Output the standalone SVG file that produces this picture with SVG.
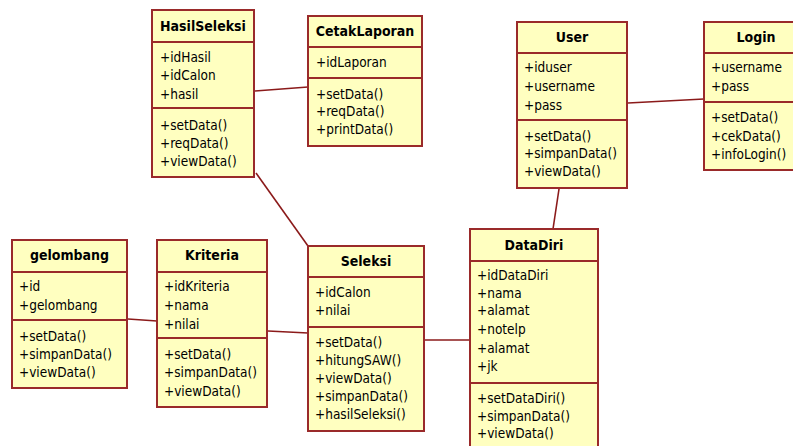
<svg xmlns="http://www.w3.org/2000/svg" width="793" height="446" viewBox="0 0 793 446">
<style>
.box{fill:#FFFFC0;stroke:#9A2A2A;stroke-width:2}
.sep{stroke:#9A2A2A;stroke-width:2}
.t{font-family:"DejaVu Sans Condensed","DejaVu Sans",sans-serif;font-size:13.5px;fill:#000}
.h{font-family:"DejaVu Sans Condensed","DejaVu Sans",sans-serif;font-size:14px;font-weight:bold;fill:#000;text-anchor:middle}
.c{stroke:#8B1A1A;stroke-width:1.6;fill:none}
</style>
<rect width="793" height="446" fill="#fff"/>
<g id="connectors">
<line class="c" x1="255" y1="91" x2="308" y2="87"/>
<line class="c" x1="256" y1="173" x2="308" y2="246"/>
<line class="c" x1="628" y1="103" x2="704" y2="99"/>
<line class="c" x1="559" y1="189" x2="553" y2="229"/>
<line class="c" x1="128" y1="319" x2="157" y2="321"/>
<line class="c" x1="268" y1="331" x2="308" y2="333"/>
<line class="c" x1="425" y1="340" x2="470" y2="340"/>
</g>
<g id="HasilSeleksi">
<rect class="box" x="152" y="10" width="102" height="167"/>
<line class="sep" x1="152" y1="42" x2="254" y2="42"/>
<line class="sep" x1="152" y1="108" x2="254" y2="108"/>
<text class="h" x="203" y="31">HasilSeleksi</text>
<text class="t" x="160" y="62">+idHasil</text>
<text class="t" x="160" y="80">+idCalon</text>
<text class="t" x="160" y="99">+hasil</text>
<text class="t" x="160" y="130">+setData()</text>
<text class="t" x="160" y="148">+reqData()</text>
<text class="t" x="160" y="166">+viewData()</text>
</g>
<g id="CetakLaporan">
<rect class="box" x="308" y="16" width="114" height="130"/>
<line class="sep" x1="308" y1="47" x2="422" y2="47"/>
<line class="sep" x1="308" y1="78" x2="422" y2="78"/>
<text class="h" x="365" y="36">CetakLaporan</text>
<text class="t" x="316" y="67">+idLaporan</text>
<text class="t" x="316" y="99">+setData()</text>
<text class="t" x="316" y="116">+reqData()</text>
<text class="t" x="316" y="134">+printData()</text>
</g>
<g id="User">
<rect class="box" x="517" y="22" width="110" height="166"/>
<line class="sep" x1="517" y1="53" x2="627" y2="53"/>
<line class="sep" x1="517" y1="120" x2="627" y2="120"/>
<text class="h" x="572" y="42">User</text>
<text class="t" x="524" y="72">+iduser</text>
<text class="t" x="524" y="91">+username</text>
<text class="t" x="524" y="109.5">+pass</text>
<text class="t" x="524" y="140.5">+setData()</text>
<text class="t" x="524" y="158">+simpanData()</text>
<text class="t" x="524" y="176">+viewData()</text>
</g>
<g id="Login">
<rect class="box" x="704" y="22" width="104" height="148"/>
<line class="sep" x1="704" y1="53" x2="808" y2="53"/>
<line class="sep" x1="704" y1="102" x2="808" y2="102"/>
<text class="h" x="756" y="42">Login</text>
<text class="t" x="711" y="72">+username</text>
<text class="t" x="711" y="91">+pass</text>
<text class="t" x="711" y="122">+setData()</text>
<text class="t" x="711" y="140.5">+cekData()</text>
<text class="t" x="711" y="158.5">+infoLogin()</text>
</g>
<g id="gelombang">
<rect class="box" x="12" y="240" width="115" height="148"/>
<line class="sep" x1="12" y1="272" x2="127" y2="272"/>
<line class="sep" x1="12" y1="320" x2="127" y2="320"/>
<text class="h" x="69.5" y="260">gelombang</text>
<text class="t" x="19" y="291">+id</text>
<text class="t" x="19" y="309.5">+gelombang</text>
<text class="t" x="19" y="341">+setData()</text>
<text class="t" x="19" y="358.5">+simpanData()</text>
<text class="t" x="19" y="377">+viewData()</text>
</g>
<g id="Kriteria">
<rect class="box" x="157" y="240" width="110" height="167"/>
<line class="sep" x1="157" y1="272" x2="267" y2="272"/>
<line class="sep" x1="157" y1="338" x2="267" y2="338"/>
<text class="h" x="212" y="260">Kriteria</text>
<text class="t" x="164" y="291">+idKriteria</text>
<text class="t" x="164" y="309.5">+nama</text>
<text class="t" x="164" y="328.5">+nilai</text>
<text class="t" x="164" y="358.5">+setData()</text>
<text class="t" x="164" y="377">+simpanData()</text>
<text class="t" x="164" y="396">+viewData()</text>
</g>
<g id="Seleksi">
<rect class="box" x="308" y="246" width="116" height="185"/>
<line class="sep" x1="308" y1="277" x2="424" y2="277"/>
<line class="sep" x1="308" y1="327" x2="424" y2="327"/>
<text class="h" x="366" y="266">Seleksi</text>
<text class="t" x="315" y="297">+idCalon</text>
<text class="t" x="315" y="314.5">+nilai</text>
<text class="t" x="315" y="347">+setData()</text>
<text class="t" x="315" y="365">+hitungSAW()</text>
<text class="t" x="315" y="383">+viewData()</text>
<text class="t" x="315" y="400.5">+simpanData()</text>
<text class="t" x="315" y="418.5">+hasilSeleksi()</text>
</g>
<g id="DataDiri">
<rect class="box" x="470" y="229" width="128" height="240"/>
<line class="sep" x1="470" y1="261" x2="598" y2="261"/>
<line class="sep" x1="470" y1="383" x2="598" y2="383"/>
<text class="h" x="534" y="249.5">DataDiri</text>
<text class="t" x="477" y="279.5">+idDataDiri</text>
<text class="t" x="477" y="298">+nama</text>
<text class="t" x="477" y="315">+alamat</text>
<text class="t" x="477" y="334">+notelp</text>
<text class="t" x="477" y="352.5">+alamat</text>
<text class="t" x="477" y="370.5">+jk</text>
<text class="t" x="477" y="403">+setDataDiri()</text>
<text class="t" x="477" y="420.5">+simpanData()</text>
<text class="t" x="477" y="438">+viewData()</text>
</g>
</svg>
